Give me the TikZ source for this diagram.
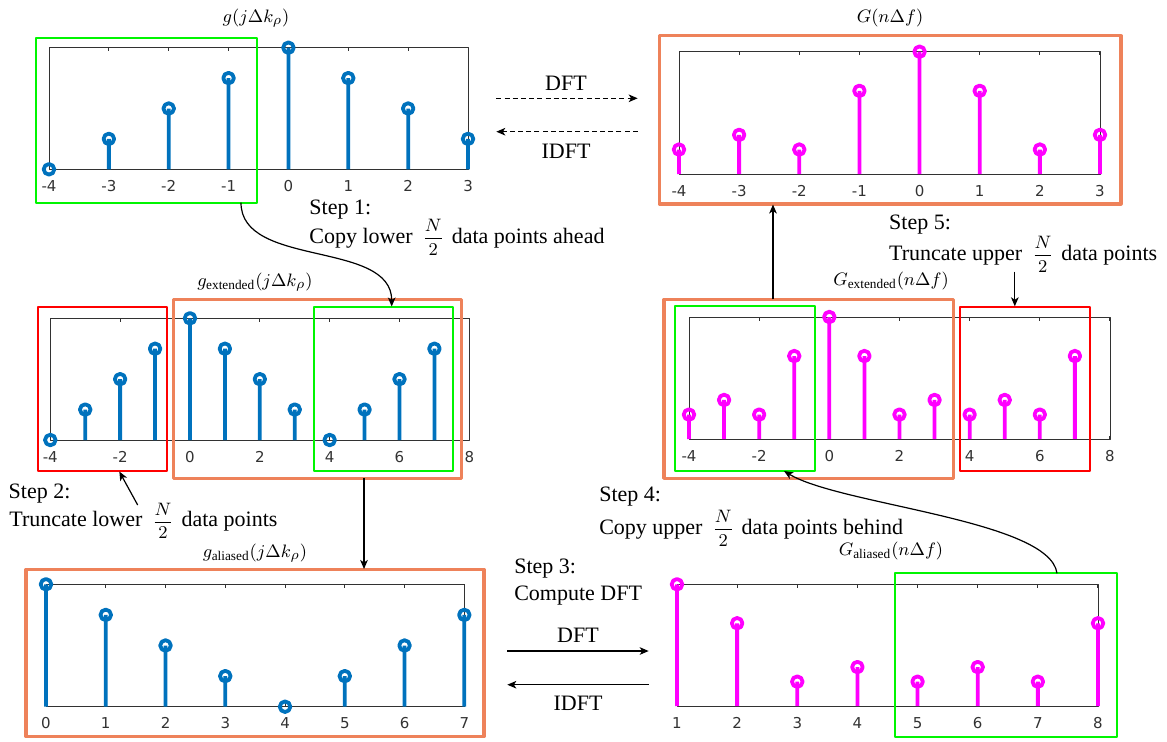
\documentclass[tikz,border=0pt]{standalone}
\usepackage{fontspec}
\setmainfont{Liberation Serif}
\newfontfamily\ticksfont{DejaVu Sans}
\usetikzlibrary{arrows.meta}
\definecolor{mblue}{RGB}{0,114,189}
\definecolor{mmag}{RGB}{255,0,255}
\definecolor{boxorange}{RGB}{238,130,90}
\definecolor{boxgreen}{RGB}{0,245,0}
\definecolor{boxred}{RGB}{255,0,0}
\definecolor{axgray}{RGB}{50,50,50}
\newcommand\halfN{{\fontsize{9.2}{11}\selectfont$\displaystyle\frac{N}{2}$}}
\begin{document}
\begin{tikzpicture}[x=0.5pt, y=-0.5pt, line join=round,
    axisline/.style={draw=axgray, line width=0.5pt},
    stemblue/.style={draw=mblue, line width=1.9pt},
    stemmag/.style={draw=mmag, line width=1.9pt},
    ticklab/.style={font=\ticksfont\fontsize{7.5}{9}\selectfont, text=axgray, anchor=base, inner sep=0pt},
    titlelab/.style={font=\fontsize{9.5}{11}\selectfont, inner sep=0pt},
    steptext/.style={font=\fontsize{11}{13}\selectfont, inner sep=0pt, anchor=base west},
    greenbox/.style={draw=boxgreen, line width=1.1pt},
    redbox/.style={draw=boxred, line width=1pt},
    orangebox/.style={draw=boxorange, line width=1.6pt},
    arr/.style={-{Stealth[length=4.5pt,width=3.8pt,inset=1.2pt]}, line width=0.6pt}]
    \useasboundingbox (0,0) rectangle (1167,741);

    % g(j dk) oben links
    \draw[axisline] (49,47.7) rectangle (468,169.3);
    \foreach \v [count=\i from 0] in {0,.25,.5,.75,1,.75,.5,.25} {
        \pgfmathsetmacro\px{49+\i*59.86}
        \draw[axisline] (\px,47.7) -- ++(0,3.5) (\px,169.3) -- ++(0,-3.5);
        \draw[stemblue] (\px,169.3) -- ++(0,-121.6*\v) circle[radius=5.3];
        \node[ticklab] (tickA\i) at (\px,191) {\the\numexpr\i-4\relax};
    }
    \node[titlelab] (titleA) at (256,18.3) {$g(j\Delta k_\rho)$};

    % G(n df) oben rechts
    \draw[axisline] (679,51.7) rectangle (1100,174);
    \foreach \v [count=\i from 0] in {.2,.32,.2,.68,1,.68,.2,.32} {
        \pgfmathsetmacro\px{679+\i*60.14}
        \draw[axisline] (\px,51.7) -- ++(0,3.5) (\px,174) -- ++(0,-3.5);
        \draw[stemmag] (\px,174) -- ++(0,-122.3*\v) circle[radius=5.3];
        \node[ticklab] (tickB\i) at (\px,196) {\the\numexpr\i-4\relax};
    }
    \node[titlelab] (titleB) at (890,18.3) {$G(n\Delta f)$};

    % g_extended
    \draw[axisline] (50.3,318.3) rectangle (469.3,440);
    \foreach \n [count=\i from 0] in {-4,-2,...,8} {
        \pgfmathsetmacro\px{50.3+\i*69.84}
        \draw[axisline] (\px,318.3) -- ++(0,3.5) (\px,440) -- ++(0,-3.5);
        \node[ticklab] (tickC\i) at (\px,462) {\n};
    }
    \foreach \v [count=\i from 0] in {0,.25,.5,.75,1,.75,.5,.25,0,.25,.5,.75} {
        \pgfmathsetmacro\px{50.3+\i*34.92}
        \draw[stemblue] (\px,440) -- ++(0,-121.7*\v) circle[radius=5.3];
    }
    \node[titlelab] (titleC) at (255,281.7) {$g_{\mathrm{extended}}(j\Delta k_\rho)$};

    % G_extended
    \draw[axisline] (689,317) rectangle (1110,439);
    \foreach \n [count=\i from 0] in {-4,-2,...,8} {
        \pgfmathsetmacro\px{689+\i*70.16}
        \draw[axisline] (\px,317) -- ++(0,3.5) (\px,439) -- ++(0,-3.5);
        \node[ticklab] (tickF\i) at (\px,461) {\n};
    }
    \foreach \v [count=\i from 0] in {.2,.32,.2,.68,1,.68,.2,.32,.2,.32,.2,.68} {
        \pgfmathsetmacro\px{689+\i*35.08}
        \draw[stemmag] (\px,439) -- ++(0,-122*\v) circle[radius=5.3];
    }
    \node[titlelab] (titleF) at (891,280.7) {$G_{\mathrm{extended}}(n\Delta f)$};

    % g_aliased
    \draw[axisline] (46,584.3) rectangle (464.3,706.7);
    \foreach \v [count=\i from 0] in {1,.75,.5,.25,0,.25,.5,.75} {
        \pgfmathsetmacro\px{46+\i*59.76}
        \draw[axisline] (\px,584.3) -- ++(0,3.5) (\px,706.7) -- ++(0,-3.5);
        \draw[stemblue] (\px,706.7) -- ++(0,-122.4*\v) circle[radius=5.3];
        \node[ticklab] (tickD\i) at (\px,728.5) {\the\numexpr\i\relax};
    }
    \node[titlelab] (titleD) at (255,552.7) {$g_{\mathrm{aliased}}(j\Delta k_\rho)$};

    % G_aliased
    \draw[axisline] (677,584.3) rectangle (1098,706);
    \foreach \v [count=\i from 0] in {1,.68,.2,.32,.2,.32,.2,.68} {
        \pgfmathsetmacro\px{677+\i*60.14}
        \draw[axisline] (\px,584.3) -- ++(0,3.5) (\px,706) -- ++(0,-3.5);
        \draw[stemmag] (\px,706) -- ++(0,-121.7*\v) circle[radius=5.3];
        \node[ticklab] (tickE\i) at (\px,728.5) {\the\numexpr\i+1\relax};
    }
    \node[titlelab] (titleE) at (891,550.7) {$G_{\mathrm{aliased}}(n\Delta f)$};

    % Rahmen
    \draw[greenbox] (36,38.3) rectangle (257.3,202.7);
    \draw[orangebox] (659.3,35.7) rectangle (1121,204);
    \draw[redbox] (37.7,307) rectangle (166.7,471);
    \draw[orangebox] (173.3,299.3) rectangle (461.3,478.3);
    \draw[greenbox] (314.3,307) rectangle (453.3,471);
    \draw[orangebox] (664,299.3) rectangle (953.6,478.3);
    \draw[greenbox] (675.2,306) rectangle (814.8,470.7);
    \draw[redbox] (960.2,306.7) rectangle (1089.7,471);
    \draw[orangebox] (26,569.3) rectangle (484,736.7);
    \draw[greenbox] (895,573.3) rectangle (1116.6,737.3);

    % DFT / IDFT oben
    \coordinate (dftAl) at (496.3,98.3);
    \coordinate (dftAr) at (637.7,98.3);
    \coordinate (idftAl) at (496.3,131.7);
    \coordinate (idftAr) at (637.7,131.7);
    \draw[arr, dash pattern=on 2.5pt off 1.6pt] (dftAl) -- (dftAr);
    \draw[arr, dash pattern=on 2.5pt off 1.6pt] (idftAr) -- (idftAl);
    \node[steptext, anchor=base] (dftA) at (566,90) {DFT};
    \node[steptext, anchor=base] (idftA) at (566,158.7) {IDFT};

    % DFT / IDFT unten
    \coordinate (dftBl) at (507.3,651);
    \coordinate (dftBr) at (648.7,651);
    \coordinate (idftBl) at (507.3,684.7);
    \coordinate (idftBr) at (648.7,684.7);
    \draw[arr] (dftBl) -- (dftBr);
    \draw[arr] (idftBr) -- (idftBl);
    \node[steptext, anchor=base] (dftB) at (578,642.3) {DFT};
    \node[steptext, anchor=base] (idftB) at (578,710) {IDFT};

    % Schritte
    \node[steptext] (step1) at (309,214) {Step 1:};
    \node[steptext] (step1t) at (309,243.3) {Copy lower\hspace{0.45em}\halfN\hspace{0.35em}data points ahead};
    \node[steptext] (step2) at (8.3,498.3) {Step 2:};
    \node[steptext] (step2t) at (9,526.7) {Truncate lower\hspace{0.45em}\halfN\hspace{0.35em}data points};
    \node[steptext] (step3) at (513.9,573.3) {Step 3:};
    \node[steptext] (step3t) at (513.9,600) {Compute DFT};
    \node[steptext] (step4) at (598.9,501.7) {Step 4:};
    \node[steptext] (step4t) at (598.9,534.3) {Copy upper\hspace{0.45em}\halfN\hspace{0.35em}data points behind};
    \node[steptext] (step5) at (888.8,229.3) {Step 5:};
    \node[steptext] (step5t) at (888.8,260) {Truncate upper\hspace{0.45em}\halfN\hspace{0.35em}data points};

    % Pfeile
    \coordinate (s1from) at (241,202.7);
    \coordinate (s1to) at (391.7,306.5);
    \draw[arr] (s1from) .. controls (241,268) and (391.7,240) .. (s1to);
    \coordinate (s2from) at (137.7,505);
    \coordinate (s2to) at (119.3,471.5);
    \draw[arr] (s2from) -- (s2to);
    \coordinate (cdfrom) at (364,478.3);
    \coordinate (cdto) at (364,569);
    \draw[arr] (cdfrom) -- (cdto);
    \coordinate (s4from) at (1057,573.3);
    \coordinate (s4to) at (784,471);
    \draw[arr] (s4from) .. controls (1050,520) and (840,505) .. (s4to);
    \coordinate (fbfrom) at (773,299.3);
    \coordinate (fbto) at (773,204.5);
    \draw[arr] (fbfrom) -- (fbto);
    \coordinate (s5from) at (1014.8,271.7);
    \coordinate (s5to) at (1014.8,306.3);
    \draw[arr] (s5from) -- (s5to);
\end{tikzpicture}
\end{document}
